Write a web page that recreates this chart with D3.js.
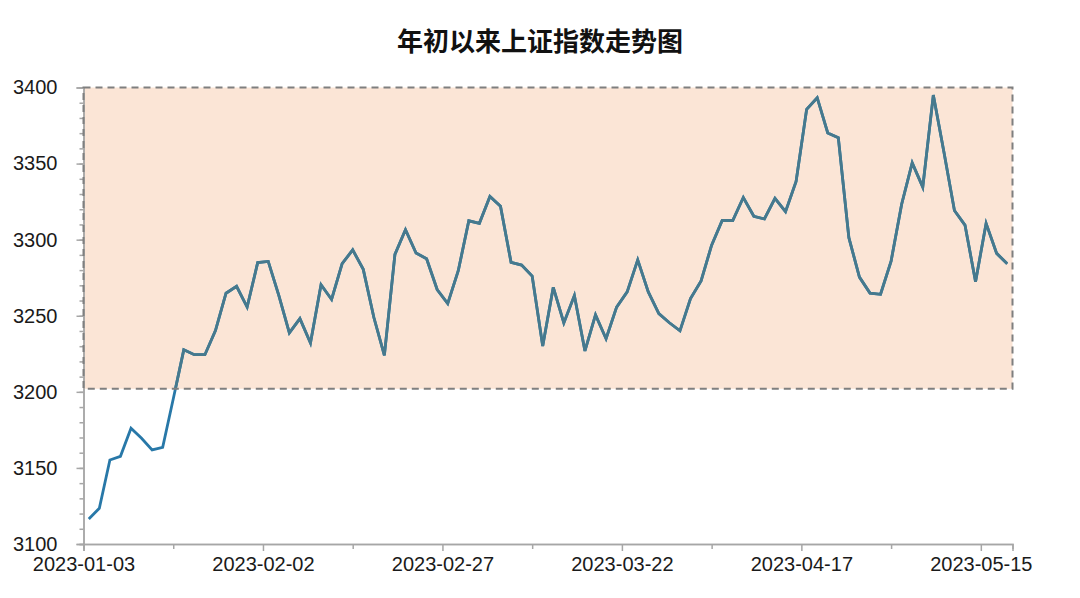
<!DOCTYPE html>
<html>
<head>
<meta charset="utf-8">
<script src="https://cdn.jsdelivr.net/npm/d3@7"></script>
<style>
  html, body { margin: 0; padding: 0; background: #fff; }
  svg { display: block; }
</style>
</head>
<body>
<div id="chart"></div>
<script>
// ---- data ----
const dates = [
  "2023-01-03","2023-01-04","2023-01-05","2023-01-06","2023-01-09","2023-01-10","2023-01-11","2023-01-12","2023-01-13",
  "2023-01-16","2023-01-17","2023-01-18","2023-01-19","2023-01-20","2023-01-30","2023-01-31","2023-02-01","2023-02-02",
  "2023-02-03","2023-02-06","2023-02-07","2023-02-08","2023-02-09","2023-02-10","2023-02-13","2023-02-14","2023-02-15",
  "2023-02-16","2023-02-17","2023-02-20","2023-02-21","2023-02-22","2023-02-23","2023-02-24","2023-02-27","2023-02-28",
  "2023-03-01","2023-03-02","2023-03-03","2023-03-06","2023-03-07","2023-03-08","2023-03-09","2023-03-10","2023-03-13",
  "2023-03-14","2023-03-15","2023-03-16","2023-03-17","2023-03-20","2023-03-21","2023-03-22","2023-03-23","2023-03-24",
  "2023-03-27","2023-03-28","2023-03-29","2023-03-30","2023-03-31","2023-04-03","2023-04-04","2023-04-06","2023-04-07",
  "2023-04-10","2023-04-11","2023-04-12","2023-04-13","2023-04-14","2023-04-17","2023-04-18","2023-04-19","2023-04-20",
  "2023-04-21","2023-04-24","2023-04-25","2023-04-26","2023-04-27","2023-04-28","2023-05-04","2023-05-05","2023-05-08",
  "2023-05-09","2023-05-10","2023-05-11","2023-05-12","2023-05-15","2023-05-16","2023-05-17"
];
const closeValues = [
  3116.5,3123.5,3155.2,3157.6,3176.1,3169.5,3161.8,3163.5,3195.3,
  3227.6,3224.4,3224.4,3240.3,3264.8,3269.3,3255.7,3284.9,3285.7,
  3263.4,3238.7,3248.1,3232.1,3270.4,3260.7,3284.2,3293.3,3280.5,
  3249.0,3224.0,3290.3,3306.5,3291.2,3287.5,3267.2,3258.0,3279.6,
  3312.4,3310.7,3328.4,3322.0,3285.1,3283.3,3276.1,3230.1,3268.7,
  3245.3,3263.3,3226.9,3250.6,3234.9,3255.7,3265.7,3286.7,3265.7,
  3251.4,3245.4,3240.1,3261.3,3272.9,3296.4,3312.6,3312.6,3327.7,
  3315.4,3313.6,3327.2,3318.4,3338.2,3385.6,3393.3,3370.1,3367.0,
  3301.3,3275.4,3264.9,3264.1,3285.9,3323.3,3350.5,3334.5,3395.0,
  3357.7,3319.2,3309.6,3272.4,3310.7,3291.0,3284.2
];
const xTickIndex = [0, 17, 34, 51, 68, 85];
const xMinorIndex = [8.5, 25.5, 42.5, 59.5, 76.5];
const yTicks = [3100, 3150, 3200, 3250, 3300, 3350, 3400];
const yMinorTicks = d3.range(3100, 3401, 10);
const bandRange = [3202, 3400];
const titleText = "年初以来上证指数走势图";

// ---- layout ----
const W = 1080, H = 598;
const mLeft = 83.5, mRight = 1012.5, mTop = 87.5, mBottom = 544;

const svg = d3.select("#chart").append("svg")
  .attr("width", W).attr("height", H);

svg.append("rect").attr("width", W).attr("height", H).attr("fill", "#fff");

const x = d3.scaleLinear().domain([0, dates.length]).range([mLeft, mRight]);
const y = d3.scaleLinear().domain([3100, 3400]).range([mBottom, mTop]);

// title
svg.append("text")
  .attr("x", 540).attr("y", 51)
  .attr("text-anchor", "middle")
  .attr("font-family", "'Noto Sans CJK SC', sans-serif")
  .attr("font-weight", "bold")
  .attr("font-size", 26)
  .attr("fill", "#111")
  .text(titleText);

// shaded band
const bx0 = x(0), bx1 = x(dates.length);
const by0 = y(bandRange[1]), by1 = y(bandRange[0]);
svg.append("rect")
  .attr("x", bx0).attr("y", by0)
  .attr("width", bx1 - bx0).attr("height", by1 - by0)
  .attr("fill", "#fbe5d6");

// clip for band portion of line
svg.append("clipPath").attr("id", "bandClip")
  .append("rect")
  .attr("x", bx0).attr("y", by0)
  .attr("width", bx1 - bx0).attr("height", by1 - by0);

// axes
const axisColor = "#a6a6a6";
const yAxisMajor = d3.axisLeft(y).tickValues(yTicks).tickSize(7).tickFormat(d3.format("d"));
const yAxisMinor = d3.axisLeft(y).tickValues(yMinorTicks).tickSize(4).tickFormat("");
const gyMinor = svg.append("g").attr("transform", `translate(${mLeft},0)`).call(yAxisMinor);
const gy = svg.append("g").attr("transform", `translate(${mLeft},0)`).call(yAxisMajor);

const xAxisMajor = d3.axisBottom(x).tickValues(xTickIndex).tickSize(7)
  .tickFormat(i => dates[i]);
const xAxisMinor = d3.axisBottom(x).tickValues(xMinorIndex).tickSize(5).tickFormat("");
const gxMinor = svg.append("g").attr("transform", `translate(0,${mBottom})`).call(xAxisMinor);
const gx = svg.append("g").attr("transform", `translate(0,${mBottom})`).call(xAxisMajor);

[gy, gyMinor, gx, gxMinor].forEach(g => {
  g.select(".domain").attr("stroke", axisColor).attr("stroke-width", 1.5);
  g.selectAll(".tick line").attr("stroke", axisColor).attr("stroke-width", 1.5);
  g.selectAll(".tick text")
    .attr("font-family", "'Liberation Sans', Arial, sans-serif")
    .attr("font-size", 20)
    .attr("fill", "#1a1a1a");
});
gy.selectAll(".tick text").attr("x", -26);
gx.selectAll(".tick text").attr("y", 13);

// line
const line = d3.line()
  .x((d, i) => x(i + 0.5))
  .y(d => y(d));

svg.append("path")
  .datum(closeValues)
  .attr("fill", "none")
  .attr("stroke", "#2878a8")
  .attr("stroke-width", 2.8)
  .attr("stroke-linejoin", "miter")
  .attr("d", line);

svg.append("path")
  .datum(closeValues)
  .attr("fill", "none")
  .attr("stroke", "#46798d")
  .attr("stroke-width", 2.8)
  .attr("stroke-linejoin", "miter")
  .attr("clip-path", "url(#bandClip)")
  .attr("d", line);

// dashed band border
svg.append("rect")
  .attr("x", bx0).attr("y", by0)
  .attr("width", bx1 - bx0).attr("height", by1 - by0)
  .attr("fill", "none")
  .attr("stroke", "#7f7f7f")
  .attr("stroke-width", 2)
  .attr("stroke-dasharray", "7,5");
</script>
</body>
</html>
